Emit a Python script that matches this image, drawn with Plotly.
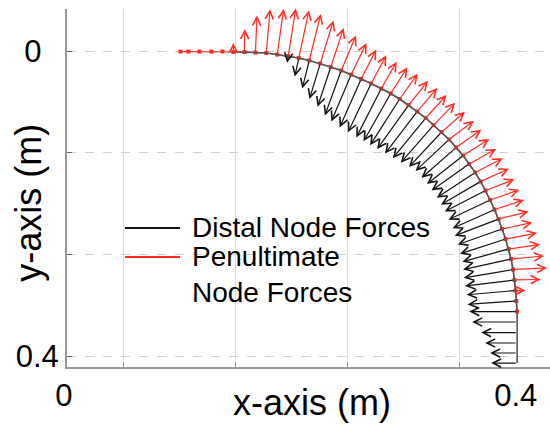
import plotly.graph_objects as go

# ---------------- data ----------------
# straight base segment (penultimate nodes only)
base_x = [0.1011, 0.1082, 0.1180, 0.1287, 0.1385]
base_y = [0.0007, 0.0007, 0.0007, 0.0007, 0.0007]

# nodes along the bent rod
node_x = [0.1483, 0.1581, 0.1679, 0.1776, 0.1874, 0.1972, 0.2066, 0.2159, 0.2257, 0.2351,
          0.2444, 0.2533, 0.2622, 0.2711, 0.2801, 0.2885, 0.2965, 0.3045, 0.3121, 0.3197,
          0.3268, 0.3339, 0.3406, 0.3468, 0.3531, 0.3584, 0.3638, 0.3687, 0.3731, 0.3771,
          0.3811, 0.3847, 0.3878, 0.3909, 0.3936, 0.3958, 0.3976, 0.3989, 0.3998, 0.4005,
          0.4012, 0.4012, 0.4012, 0.4012, 0.4012, 0.4012]
node_y = [0.0013, 0.0013, 0.0020, 0.0026, 0.0046, 0.0065, 0.0092, 0.0124, 0.0164, 0.0209,
          0.0255, 0.0308, 0.0366, 0.0425, 0.0491, 0.0556, 0.0628, 0.0707, 0.0792, 0.0877,
          0.0969, 0.1060, 0.1158, 0.1263, 0.1368, 0.1479, 0.1590, 0.1708, 0.1826, 0.1950,
          0.2075, 0.2199, 0.2330, 0.2461, 0.2592, 0.2723, 0.2860, 0.2997, 0.3135, 0.3272,
          0.3410, 0.3547, 0.3685, 0.3822, 0.3953, 0.4084]

# penultimate node forces (red), components per node
pen_u = [0.0000, 0.0004, 0.0015, 0.0034, 0.0057, 0.0067, 0.0091, 0.0103, 0.0118, 0.0115,
         0.0132, 0.0136, 0.0134, 0.0135, 0.0138, 0.0149, 0.0160, 0.0172, 0.0179, 0.0186,
         0.0192, 0.0208, 0.0220, 0.0225, 0.0233, 0.0241, 0.0245, 0.0252, 0.0257, 0.0261,
         0.0263, 0.0268, 0.0270, 0.0280, 0.0282, 0.0293, 0.0303, 0.0232, 0.0089, 0.0000,
         0.0000, 0.0000, 0.0000, 0.0000, 0.0000, 0.0000]
pen_v = [-0.0118, -0.0301, -0.0484, -0.0573, -0.0597, -0.0620, -0.0627, -0.0610, -0.0563, -0.0509,
         -0.0458, -0.0412, -0.0385, -0.0368, -0.0351, -0.0342, -0.0330, -0.0318, -0.0309, -0.0300,
         -0.0291, -0.0266, -0.0245, -0.0234, -0.0216, -0.0198, -0.0186, -0.0168, -0.0147, -0.0134,
         -0.0126, -0.0098, -0.0086, -0.0080, -0.0062, -0.0041, -0.0020, -0.0007, 0.0000, 0.0000,
         0.0000, 0.0000, 0.0000, 0.0000, 0.0000, 0.0000]

# distal node forces (black), components per node
dist_u = [0.0000, 0.0000, 0.0000, 0.0000, 0.0000, -0.0010, -0.0036, -0.0062, -0.0096, -0.0118,
          -0.0146, -0.0177, -0.0192, -0.0207, -0.0223, -0.0242, -0.0264, -0.0280, -0.0287, -0.0293,
          -0.0293, -0.0291, -0.0299, -0.0308, -0.0322, -0.0335, -0.0342, -0.0354, -0.0364, -0.0370,
          -0.0374, -0.0391, -0.0395, -0.0407, -0.0412, -0.0427, -0.0439, -0.0442, -0.0435, -0.0435,
          -0.0427, -0.0401, -0.0321, -0.0285, -0.0240, -0.0232]
dist_v = [0.0000, 0.0000, 0.0000, 0.0000, 0.0000, 0.0090, 0.0243, 0.0368, 0.0463, 0.0521,
          0.0590, 0.0614, 0.0634, 0.0639, 0.0641, 0.0626, 0.0606, 0.0576, 0.0551, 0.0526,
          0.0492, 0.0459, 0.0411, 0.0397, 0.0372, 0.0347, 0.0331, 0.0304, 0.0275, 0.0258,
          0.0246, 0.0220, 0.0203, 0.0194, 0.0166, 0.0137, 0.0109, 0.0080, 0.0056, 0.0045,
          0.0000, 0.0000, 0.0000, 0.0000, 0.0000, 0.0000]

pen_node_count = 41          # red markers run through the first 41 rod nodes

x_ticks = [0, 0.4]
x_ticktext = ["0\u2009", "0.4"]
x_grid = [0.05, 0.15, 0.25, 0.35]
y_ticks = [0, 0.1333, 0.2667, 0.4]
y_ticktext = ["0\u2007", "", "", "0.4"]

FONT = "Liberation Sans, Arial, Helvetica, sans-serif"
RED = "rgb(255,45,35)"
BLACK = "rgb(20,20,20)"

fig = go.Figure()

# penultimate nodes (red)
fig.add_trace(go.Scatter(
    x=base_x + node_x[:pen_node_count], y=base_y + node_y[:pen_node_count],
    mode="lines+markers", line=dict(color=RED, width=1.2),
    marker=dict(symbol="square", size=4, color=RED),
    showlegend=False, hoverinfo="skip"))
# rod (distal nodes)
fig.add_trace(go.Scatter(
    x=node_x, y=node_y, mode="lines",
    line=dict(color="rgb(85,85,85)", width=1.6),
    showlegend=False, hoverinfo="skip"))

annotations = []


def add_arrows(xs, ys, us, vs, color):
    for x0, y0, u, v in zip(xs, ys, us, vs):
        if u == 0 and v == 0:
            continue
        annotations.append(dict(
            x=x0 + u, y=y0 + v, ax=x0, ay=y0,
            xref="x", yref="y", axref="x", ayref="y",
            text="", showarrow=True, arrowhead=5, arrowsize=1.35,
            arrowwidth=1.2, arrowcolor=color, standoff=0, startstandoff=0))


add_arrows(node_x, node_y, dist_u, dist_v, BLACK)
add_arrows(node_x, node_y, pen_u, pen_v, RED)

# custom legend
annotations.append(dict(xref="paper", yref="paper", x=0.2547, y=0.3883,
                        xanchor="left", yanchor="middle", showarrow=False,
                        text="Distal Node Forces", font=dict(family=FONT, size=28, color="black")))
annotations.append(dict(xref="paper", yref="paper", x=0.2547, y=0.3575,
                        xanchor="left", yanchor="top", showarrow=False, align="left",
                        text="Penultimate<br>Node Forces", font=dict(family=FONT, size=28, color="black")))
# axis titles
annotations.append(dict(xref="paper", yref="paper", x=0.507, y=-0.098,
                        xanchor="center", yanchor="middle", showarrow=False,
                        text="x-axis (m)", font=dict(family=FONT, size=36, color="black")))
annotations.append(dict(xref="paper", yref="paper", x=-0.080, y=0.46,
                        xanchor="center", yanchor="middle", showarrow=False, textangle=-90,
                        text="y-axis (m)", font=dict(family=FONT, size=36, color="black")))

shapes = [
    dict(type="line", xref="paper", yref="paper", x0=0.120, x1=0.234, y0=0.3883, y1=0.3883,
         line=dict(color=BLACK, width=2)),
    dict(type="line", xref="paper", yref="paper", x0=0.120, x1=0.234, y0=0.3073, y1=0.3073,
         line=dict(color=RED, width=2)),
]

fig.update_layout(
    width=550, height=425,
    margin=dict(l=67, r=0, t=9, b=58),
    paper_bgcolor="white", plot_bgcolor="white",
    font=dict(family=FONT, color="black"),
    annotations=annotations, shapes=shapes,
    xaxis=dict(range=[0, 0.4305], showline=True, linecolor="#9a9a9a", linewidth=2,
               tickmode="array", tickvals=x_ticks, ticktext=x_ticktext,
               ticks="", showgrid=False, zeroline=False,
               tickfont=dict(family=FONT, size=31, color="black"),
               ticklabelstandoff=0,
               minor=dict(tickmode="array", tickvals=x_grid, showgrid=True,
                          gridcolor="#dcdcdc", gridwidth=1, ticks="inside",
                          ticklen=4, tickcolor="#888")),
    yaxis=dict(range=[0.4136, -0.055], showline=True, linecolor="#9a9a9a", linewidth=2,
               tickmode="array", tickvals=y_ticks, ticktext=y_ticktext,
               ticks="inside", ticklen=5, tickcolor="#666",
               showgrid=True, gridcolor="#d2d2d2", griddash="dash", gridwidth=1,
               zeroline=False,
               tickfont=dict(family=FONT, size=31, color="black")),
)

fig.write_html("out.html",
               config={"displayModeBar": False},
               post_script="document.body.style.margin='0px';document.body.style.overflow='hidden';")
